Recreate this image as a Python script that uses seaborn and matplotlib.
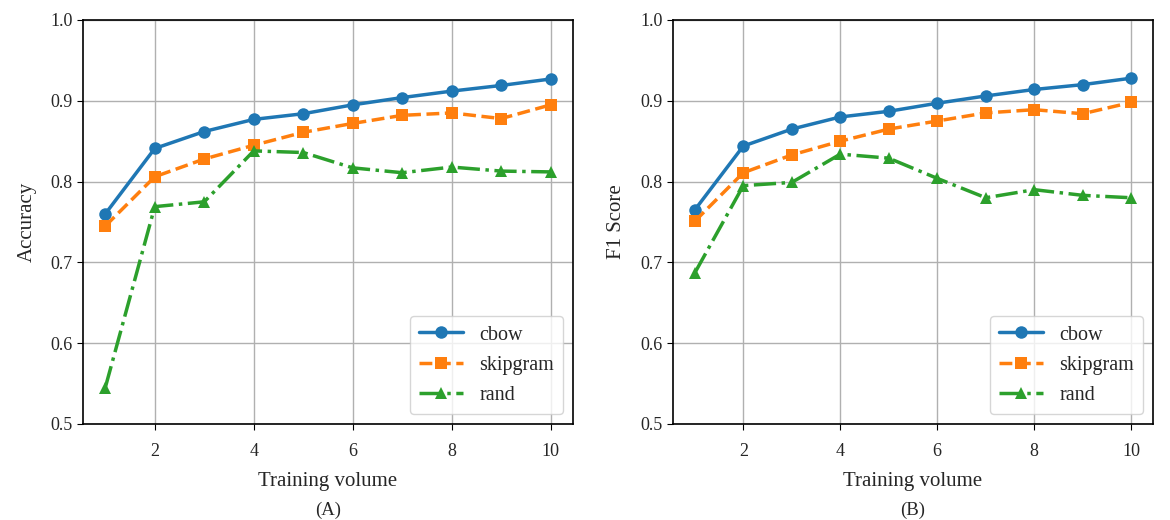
import numpy as np
import pandas as pd
import matplotlib
matplotlib.use('Agg')
import matplotlib.pyplot as plt
import seaborn as sns

# training volume
volume = [1, 2, 3, 4, 5, 6, 7, 8, 9, 10]
models = ['cbow', 'skipgram', 'rand']

# (A) accuracy
acc_cbow = [0.760, 0.841, 0.862, 0.877, 0.884, 0.895, 0.904, 0.912, 0.919, 0.927]
acc_skip = [0.745, 0.806, 0.828, 0.845, 0.861, 0.872, 0.882, 0.885, 0.878, 0.895]
acc_rand = [0.545, 0.769, 0.775, 0.838, 0.836, 0.817, 0.811, 0.818, 0.813, 0.812]

# (B) f1 score
f1_cbow = [0.765, 0.844, 0.865, 0.880, 0.887, 0.897, 0.906, 0.914, 0.920, 0.928]
f1_skip = [0.751, 0.811, 0.833, 0.850, 0.865, 0.875, 0.885, 0.889, 0.884, 0.898]
f1_rand = [0.687, 0.795, 0.799, 0.834, 0.829, 0.804, 0.780, 0.790, 0.783, 0.780]

sns.set_style('ticks')
plt.rcParams['font.family'] = ['Liberation Serif', 'DejaVu Serif']

def to_long(a, b, c):
    return pd.DataFrame({'volume': volume * 3,
                         'score': a + b + c,
                         'model': np.repeat(models, len(volume))})

acc_df = to_long(acc_cbow, acc_skip, acc_rand)
f1_df = to_long(f1_cbow, f1_skip, f1_rand)

palette = {'cbow': '#1f77b4', 'skipgram': '#ff7f0e', 'rand': '#2ca02c'}
markers = {'cbow': 'o', 'skipgram': 's', 'rand': '^'}
dashes = {'cbow': '', 'skipgram': (3.7, 1.6), 'rand': (6.4, 1.6, 1, 1.6)}

fig = plt.figure(figsize=(11.7, 5.2), dpi=100)
ax1 = fig.add_axes([83/1170, 96/520, 490/1170, 404/520])
ax2 = fig.add_axes([673/1170, 96/520, 480/1170, 404/520])

for ax, df, ylab, tag in [(ax1, acc_df, 'Accuracy', '(A)'), (ax2, f1_df, 'F1 Score', '(B)')]:
    sns.lineplot(data=df, x='volume', y='score', hue='model', style='model',
                 palette=palette, markers=markers, dashes=dashes,
                 linewidth=2.5, markersize=9, markeredgewidth=0, ax=ax)
    ax.set_ylim(0.5, 1.0)
    ax.set_xlim(0.55, 10.45)
    ax.set_xticks([2, 4, 6, 8, 10])
    ax.set_yticks([0.5, 0.6, 0.7, 0.8, 0.9, 1.0])
    ax.set_yticklabels(['0.5', '0.6', '0.7', '0.8', '0.9', '1.0'])
    ax.grid(True, color='#b0b0b0', linewidth=1)
    ax.tick_params(labelsize=13, direction='out', length=4, color='black')
    ax.tick_params(axis='x', pad=10)
    for s in ax.spines.values():
        s.set_color('black')
        s.set_linewidth(1.2)
    ax.set_xlabel('Training volume', fontsize=15, labelpad=8)
    ax.set_ylabel(ylab, fontsize=15, labelpad=10)
    ax.legend(loc='lower right', fontsize=14.5, title=None, frameon=True,
              handlelength=2.2, borderpad=0.45, labelspacing=0.55)
    ax.text(0.5, -0.213, tag, transform=ax.transAxes, ha='center', va='center', fontsize=13.5)

plt.savefig('out.png', dpi=100)
